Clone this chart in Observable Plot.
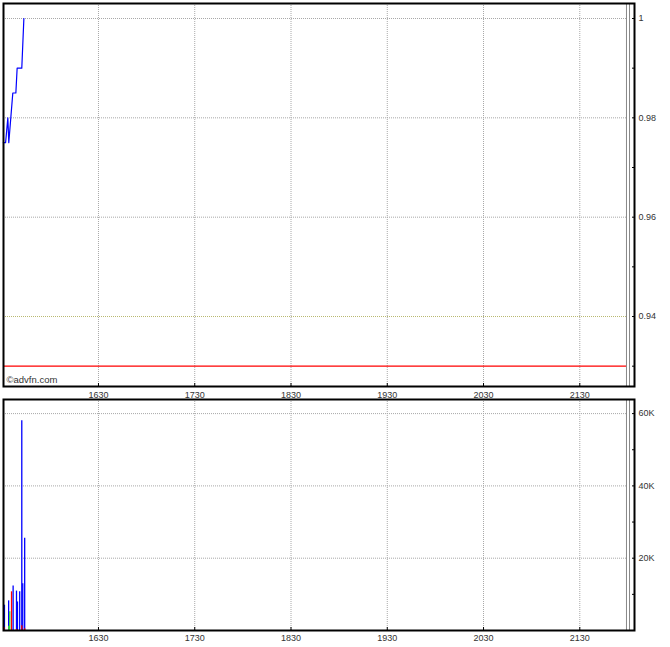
<!DOCTYPE html>
<html>
<head>
<meta charset="utf-8">
<script src="https://cdn.jsdelivr.net/npm/d3@7"></script>
<script src="https://cdn.jsdelivr.net/npm/@observablehq/plot@0.6"></script>
<style>
  body { margin: 0; background: #fff; }
  #wrap { position: relative; width: 670px; height: 647px; background: #fff; }
  #wrap svg { position: absolute; left: 0; overflow: visible; }
</style>
</head>
<body>
<div id="wrap"></div>
<script>
// ---- time axis (minutes since midnight) ----
const xDomain = [930.8, 1324.1];
const xTicks = [990, 1050, 1110, 1170, 1230, 1290];
const xTickLabels = ["1630", "1730", "1830", "1930", "2030", "2130"];
const closeTimes = [1319.1, 1321.0];

// ---- price panel ----
const priceTimes = [930.7, 932.1, 933.5, 934.1, 936.6, 938.5, 939.3, 942.2, 943.5];
const prices     = [0.975, 0.975, 0.98, 0.975, 0.985, 0.985, 0.99, 0.99, 1.0];
const priceDomain = [0.92591, 1.00302];
const priceTicks = [0.93, 0.94, 0.95, 0.96, 0.97, 0.98, 0.99, 1.0];
const priceLabelTicks = [0.94, 0.96, 0.98, 1.0];
const priceLabels = ["0.94", "0.96", "0.98", "1"];
const priceGrid = [0.96, 0.98, 1.0];
const openLevel = 0.94;
const refLevel = 0.93;

// ---- volume panel ----
const volTimes  = [931.4, 934.0, 934.7, 935.8, 936.8, 938.9, 939.5, 940.9, 942.2, 942.8, 944.0];
const volValues = [7000, 8200, 5200, 10700, 12300, 10900, 7900, 10700, 58000, 12900, 25500];
const volKinds  = ["blue", "blue", "green", "red", "blue", "blue", "blue", "blue", "blue", "blue", "blue"];
const tradeTimes  = [931.2, 934.1, 938.9, 942.2, 944.0];
const tradeValues = [800, 1200, 300, 1300, 500];
const tradeKinds  = ["red", "green", "red", "red", "red"];
const volDomain = [0, 63900];
const volTicks = [10000, 20000, 30000, 40000, 50000, 60000];
const volLabelTicks = [20000, 40000, 60000];
const volLabels = ["20K", "40K", "60K"];

const kindColor = {blue: "#0000ff", green: "#33dd33", red: "#ff0000"};
const gridColor = "#a8a8a8";
const fontFamily = "'Liberation Sans', Arial, sans-serif";

const priceData = priceTimes.map((t, i) => ({t, p: prices[i]}));
const volData = volTimes.map((t, i) => ({t, v: volValues[i], c: kindColor[volKinds[i]]}));
const tradeData = tradeTimes.map((t, i) => ({t, v: tradeValues[i], c: kindColor[tradeKinds[i]]}));

const fmtX = d => { const i = xTicks.indexOf(d); return i >= 0 ? xTickLabels[i] : ""; };
const fmtP = d => { const i = priceLabelTicks.findIndex(v => Math.abs(v - d) < 1e-9); return i >= 0 ? priceLabels[i] : ""; };
const fmtV = d => { const i = volLabelTicks.indexOf(d); return i >= 0 ? volLabels[i] : ""; };

const common = {
  width: 670,
  marginLeft: 3,
  marginRight: 36,
  style: {fontFamily, fontSize: "9px", color: "#333", background: "transparent", overflow: "visible"}
};

const priceChart = Plot.plot({
  ...common,
  height: 398,
  marginTop: 3,
  marginBottom: 12,
  x: {domain: xDomain},
  y: {domain: priceDomain},
  marks: [
    Plot.ruleX(xTicks, {stroke: gridColor, strokeDasharray: "1,1"}),
    Plot.ruleY(priceGrid, {x1: xDomain[0], x2: closeTimes[0], stroke: gridColor, strokeDasharray: "1,1"}),
    Plot.ruleY([openLevel], {x1: xDomain[0], x2: closeTimes[0], stroke: "#b8b870", strokeDasharray: "1,1"}),
    Plot.ruleX(closeTimes, {stroke: "#888"}),
    Plot.ruleY([refLevel], {x1: xDomain[0], x2: closeTimes[0], stroke: "#ff0000", strokeWidth: 1.2}),
    Plot.line(priceData, {x: "t", y: "p", stroke: "#0000ff", strokeWidth: 1.2, curve: "linear"}),
    Plot.text(["©advfn.com"], {frameAnchor: "bottom-left", dx: 3, dy: -4, textAnchor: "start", lineAnchor: "bottom", fontSize: 9.5, fill: "#333"}),
    Plot.axisY({anchor: "right", ticks: priceTicks, tickFormat: fmtP, tickSize: 3, dx: -3, tickPadding: 4, label: null, stroke: "#000"}),
    Plot.axisX({anchor: "bottom", ticks: xTicks, tickFormat: fmtX, tickSize: 3, dy: -3, tickPadding: 5, label: null, stroke: "#000"}),
    Plot.frame({stroke: "#000", strokeWidth: 2})
  ]
});
priceChart.style.top = "0px";

const volumeChart = Plot.plot({
  ...common,
  height: 249,
  marginTop: 1,
  marginBottom: 17,
  x: {domain: xDomain},
  y: {domain: volDomain},
  marks: [
    Plot.ruleX(xTicks, {stroke: gridColor, strokeDasharray: "1,1"}),
    Plot.ruleY(volLabelTicks, {x1: xDomain[0], x2: closeTimes[0], stroke: gridColor, strokeDasharray: "1,1"}),
    Plot.ruleX(closeTimes, {stroke: "#888"}),
    Plot.ruleX(volData, {x: "t", y1: 0, y2: "v", stroke: "c", strokeWidth: 1.3}),
    Plot.ruleX(tradeData, {x: "t", y1: 0, y2: "v", stroke: "c", strokeWidth: 1.3}),
    Plot.axisY({anchor: "right", ticks: volTicks, tickFormat: fmtV, tickSize: 3, dx: -3, tickPadding: 4, label: null, stroke: "#000"}),
    Plot.axisX({anchor: "bottom", ticks: xTicks, tickFormat: fmtX, tickSize: 3, dy: -3, tickPadding: 4, label: null, stroke: "#000"}),
    Plot.frame({stroke: "#000", strokeWidth: 2})
  ]
});
volumeChart.style.top = "398px";

const wrap = document.getElementById("wrap");
wrap.appendChild(priceChart);
wrap.appendChild(volumeChart);
</script>
</body>
</html>
